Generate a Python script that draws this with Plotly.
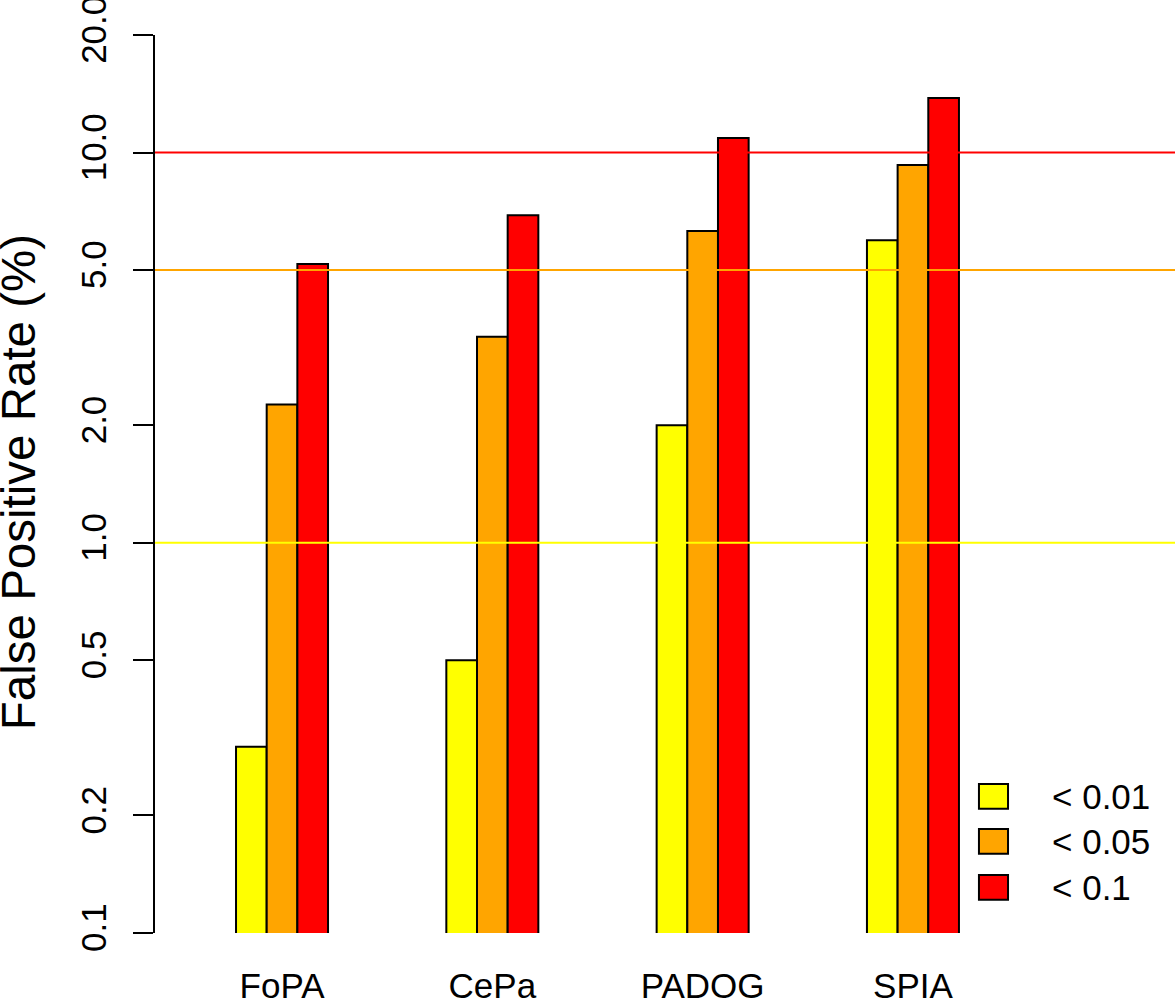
import plotly.graph_objects as go

methods = ["FoPA", "CePa", "PADOG", "SPIA"]
series_names = ["< 0.01", "< 0.05", "< 0.1"]
series_colors = ["#FFFF00", "#FFA500", "#FF0000"]
fpr_001 = [0.3, 0.5, 2.0, 5.96]
fpr_005 = [2.26, 3.37, 6.29, 9.29]
fpr_01 = [5.18, 6.91, 10.9, 13.8]
series_values = [fpr_001, fpr_005, fpr_01]

ref_levels = [10, 5, 1]
ref_colors = ["#FF0000", "#FFA500", "#FFFF00"]

ytick_vals = [0.1, 0.2, 0.5, 1, 2, 5, 10, 20]
ytick_text = ["0.1", "0.2", "0.5", "1.0", "2.0", "5.0", "10.0", "20.0"]

FONT = "Liberation Sans, Arial, Helvetica, sans-serif"

fig = go.Figure()
for name, color, vals in zip(series_names, series_colors, series_values):
    fig.add_trace(go.Bar(
        x=methods, y=vals, name=name,
        marker=dict(color=color, line=dict(color="black", width=2)),
        showlegend=False,
    ))

for lvl, col in zip(ref_levels, ref_colors):
    fig.add_shape(type="line", xref="paper", yref="y", x0=0, x1=1, y0=lvl, y1=lvl,
                  line=dict(color=col, width=2), layer="above")

# custom legend (R style)
leg_x0, leg_x1 = 0.8078, 0.8363
leg_tops = [0.1659, 0.1158, 0.0646]
box_h = 0.0275
for i, (name, color) in enumerate(zip(series_names, series_colors)):
    top = leg_tops[i]
    fig.add_shape(type="rect", xref="paper", yref="paper", x0=leg_x0, x1=leg_x1,
                  y0=top - box_h, y1=top, fillcolor=color,
                  line=dict(color="black", width=2), layer="above")
    fig.add_annotation(xref="paper", yref="paper", x=0.8775, y=top - box_h / 2,
                       text=name, showarrow=False, xanchor="left", yanchor="middle",
                       font=dict(size=35, color="black", family=FONT))

fig.add_annotation(xref="paper", yref="paper", x=(18 - 155) / 1020, y=0.502,
                   text="False Positive Rate (%)", textangle=-90, showarrow=False,
                   xanchor="center", yanchor="middle",
                   font=dict(size=47.5, color="black", family=FONT))

fig.update_layout(
    width=1175, height=1002,
    margin=dict(l=155, r=0, t=35, b=69),
    paper_bgcolor="white", plot_bgcolor="white",
    barmode="group", bargap=0.5625, bargroupgap=0,
    font=dict(family=FONT, size=35, color="black"),
    xaxis=dict(range=[-0.604, 4.246], showline=False, showgrid=False, zeroline=False,
               ticks="", tickfont=dict(size=35), ticklabelstandoff=29, automargin=False,
               ticklabeloverflow="allow"),
    yaxis=dict(type="log", range=[-1.0001, 1.3011], tickvals=ytick_vals, ticktext=ytick_text,
               tickangle=-90, showline=True, linecolor="black", linewidth=2,
               ticks="outside", ticklen=20, tickwidth=2, tickcolor="black",
               showgrid=False, zeroline=False, tickfont=dict(size=35),
               ticklabelstandoff=13, automargin=False, ticklabeloverflow="allow"),
)

fig.write_html("out.html", config={"displayModeBar": False},
               post_script="document.body.style.margin='0';document.body.style.padding='0';")
